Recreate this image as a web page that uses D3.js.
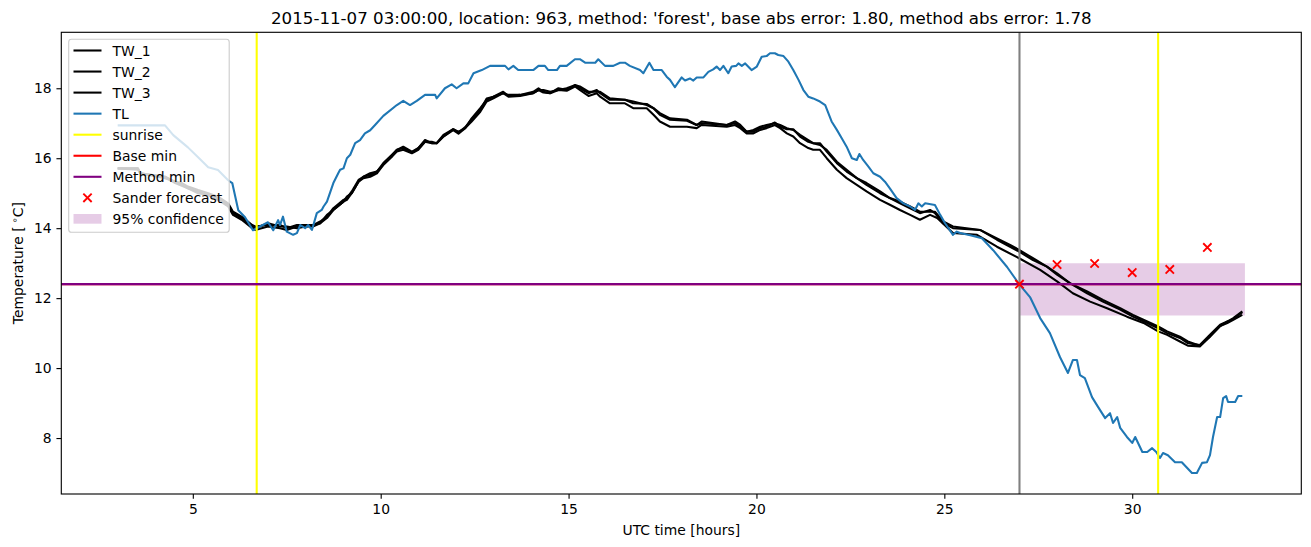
<!DOCTYPE html>
<html><head><meta charset="utf-8">
<script src="https://cdn.jsdelivr.net/npm/d3@7"></script>
<style>body{margin:0;background:#fff}svg{display:block}text{font-family:"DejaVu Sans",sans-serif;fill:#000}</style>
</head><body><svg id="c" width="1311" height="547"></svg>
<script>
const TITLE = "2015-11-07 03:00:00, location: 963, method: 'forest', base abs error: 1.80, method abs error: 1.78";
const xTicks = [5,10,15,20,25,30];
const yTicks = [8,10,12,14,16,18];
const TW_1 = [[3.0,15.71],[3.54,15.71],[3.6,15.57],[4.26,15.47],[4.53,15.33],[4.71,15.29],[4.87,15.19],[5.14,15.09],[5.41,15.0],[5.67,14.9],[5.94,14.71],[6.07,14.47],[6.30,14.33],[6.58,14.09],[6.66,14.05],[7.0,14.09],[7.32,14.09],[7.50,14.0],[7.77,14.09],[8.21,14.09],[8.39,14.19],[8.57,14.33],[8.74,14.57],[9.01,14.81],[9.10,14.86],[9.23,15.05],[9.41,15.38],[9.54,15.47],[9.72,15.52],[9.90,15.62],[10.07,15.86],[10.30,16.1],[10.43,16.24],[10.60,16.29],[10.83,16.16],[11.0,16.29],[11.18,16.52],[11.36,16.43],[11.49,16.43],[11.67,16.67],[11.93,16.83],[12.07,16.73],[12.25,16.89],[12.42,17.11],[12.65,17.38],[12.82,17.71],[13.00,17.76],[13.26,17.9],[13.40,17.78],[13.71,17.81],[14.06,17.9],[14.20,18.0],[14.33,17.9],[14.51,17.86],[14.73,18.0],[14.95,17.95],[15.17,18.09],[15.30,18.0],[15.53,17.86],[15.75,17.95],[15.84,17.86],[16.10,17.67],[16.50,17.67],[16.72,17.57],[17.08,17.55],[17.26,17.43],[17.43,17.24],[17.70,17.1],[18.15,17.07],[18.41,16.95],[18.54,17.05],[19.21,16.95],[19.43,17.05],[19.57,16.95],[19.74,16.76],[19.92,16.76],[20.10,16.86],[20.27,16.9],[20.49,17.02],[20.63,16.9],[20.81,16.83],[20.98,16.83],[21.16,16.62],[21.38,16.47],[21.51,16.43],[21.69,16.43],[21.87,16.19],[22.14,15.86],[22.40,15.62],[22.67,15.43],[22.93,15.24],[23.29,15.0],[23.55,14.86],[23.82,14.71],[24.09,14.57],[24.35,14.43],[24.62,14.52],[24.75,14.43],[24.97,14.14],[25.23,14.0],[25.95,13.95],[26.40,13.67],[26.75,13.47],[26.99,13.33],[27.36,13.09],[27.73,12.9],[28.0,12.71],[28.34,12.43],[28.80,12.14],[29.22,11.9],[29.68,11.67],[30.02,11.47],[30.40,11.29],[30.69,11.14],[30.93,11.0],[31.27,10.86],[31.48,10.71],[31.80,10.66],[32.07,10.95],[32.34,11.24],[32.53,11.33],[32.69,11.43],[32.93,11.62]];
const TW_2 = [[3.0,15.71],[3.54,15.67],[3.6,15.57],[4.26,15.43],[4.53,15.33],[4.71,15.24],[4.87,15.14],[5.14,15.05],[5.41,14.95],[5.67,14.86],[5.94,14.67],[6.07,14.43],[6.30,14.29],[6.58,14.05],[6.66,14.0],[7.0,14.14],[7.32,14.05],[7.50,14.05],[7.77,14.0],[8.21,14.09],[8.39,14.14],[8.57,14.38],[8.74,14.52],[9.01,14.76],[9.10,14.9],[9.23,15.0],[9.41,15.33],[9.54,15.47],[9.72,15.57],[9.90,15.62],[10.07,15.81],[10.30,16.05],[10.43,16.24],[10.60,16.33],[10.83,16.19],[11.0,16.29],[11.18,16.47],[11.36,16.47],[11.49,16.43],[11.67,16.62],[11.93,16.83],[12.07,16.76],[12.25,16.86],[12.42,17.14],[12.65,17.43],[12.82,17.67],[13.00,17.76],[13.26,17.86],[13.40,17.81],[13.71,17.81],[14.06,17.86],[14.20,17.95],[14.33,17.95],[14.51,17.9],[14.73,17.95],[14.95,18.0],[15.17,18.09],[15.30,18.05],[15.53,17.9],[15.75,17.9],[15.84,17.9],[16.10,17.71],[16.50,17.67],[16.72,17.62],[17.08,17.52],[17.26,17.43],[17.43,17.29],[17.70,17.14],[18.15,17.1],[18.41,16.95],[18.54,17.0],[19.21,16.95],[19.43,17.0],[19.57,16.9],[19.74,16.76],[19.92,16.81],[20.10,16.9],[20.27,16.95],[20.49,17.0],[20.63,16.95],[20.81,16.86],[20.98,16.81],[21.16,16.67],[21.38,16.52],[21.51,16.43],[21.69,16.38],[21.87,16.24],[22.14,15.9],[22.40,15.67],[22.67,15.43],[22.93,15.29],[23.29,15.05],[23.55,14.86],[23.82,14.76],[24.09,14.62],[24.35,14.47],[24.62,14.47],[24.75,14.47],[24.97,14.19],[25.23,14.05],[25.95,13.95],[26.40,13.71],[26.75,13.52],[26.99,13.38],[27.36,13.14],[27.73,12.9],[28.0,12.67],[28.34,12.43],[28.80,12.19],[29.22,11.95],[29.68,11.71],[30.02,11.52],[30.40,11.33],[30.69,11.19],[30.93,11.05],[31.27,10.9],[31.48,10.76],[31.80,10.64],[32.07,10.9],[32.34,11.2],[32.53,11.33],[32.69,11.4],[32.93,11.6]];
const TW_3 = [[3.0,15.71],[3.54,15.71],[3.6,15.57],[4.26,15.47],[4.53,15.29],[4.87,15.14],[5.14,15.0],[5.41,14.95],[5.67,14.81],[5.94,14.62],[6.07,14.38],[6.30,14.24],[6.58,14.0],[6.66,13.95],[7.0,14.05],[7.32,14.0],[7.50,13.95],[7.77,14.05],[8.21,14.05],[8.39,14.14],[8.57,14.29],[8.74,14.52],[9.01,14.76],[9.10,14.81],[9.23,15.0],[9.41,15.33],[9.54,15.43],[9.72,15.47],[9.90,15.57],[10.07,15.81],[10.30,16.05],[10.43,16.19],[10.60,16.24],[10.83,16.14],[11.0,16.24],[11.18,16.47],[11.36,16.43],[11.49,16.43],[11.67,16.62],[11.93,16.8],[12.07,16.7],[12.25,16.86],[12.42,17.05],[12.65,17.33],[12.82,17.62],[13.00,17.71],[13.26,17.86],[13.40,17.76],[13.71,17.78],[14.06,17.86],[14.20,17.95],[14.33,17.88],[14.51,17.86],[14.73,17.95],[14.95,17.93],[15.17,18.05],[15.30,17.95],[15.53,17.78],[15.75,17.86],[15.84,17.76],[16.10,17.57],[16.50,17.57],[16.72,17.43],[17.08,17.43],[17.26,17.24],[17.43,17.05],[17.70,16.9],[18.15,16.9],[18.41,16.86],[18.54,16.95],[19.21,16.9],[19.43,16.95],[19.57,16.86],[19.74,16.71],[19.92,16.71],[20.10,16.81],[20.27,16.86],[20.49,16.95],[20.63,16.86],[20.81,16.71],[20.98,16.62],[21.16,16.43],[21.38,16.29],[21.51,16.24],[21.69,16.24],[21.87,16.0],[22.14,15.67],[22.40,15.43],[22.67,15.24],[22.93,15.05],[23.29,14.81],[23.55,14.67],[23.82,14.52],[24.09,14.38],[24.35,14.24],[24.62,14.38],[24.81,14.29],[25.23,13.86],[25.87,13.81],[26.40,13.47],[26.99,13.14],[27.55,12.81],[28.0,12.48],[28.42,12.14],[28.88,11.9],[29.33,11.71],[29.86,11.47],[30.30,11.29],[30.69,11.05],[30.93,10.95],[31.27,10.76],[31.48,10.64],[31.80,10.62],[32.07,10.9],[32.34,11.2],[32.53,11.29],[32.69,11.38],[32.93,11.52]];
const TL = [[3.0,16.94],[4.26,16.94],[4.48,16.66],[4.87,16.31],[5.14,16.03],[5.41,15.74],[5.67,15.66],[5.94,15.37],[6.05,15.29],[6.21,14.51],[6.39,14.31],[6.60,13.94],[7.00,14.17],[7.14,13.94],[7.27,14.23],[7.32,14.09],[7.40,14.33],[7.50,13.9],[7.67,13.81],[7.77,13.86],[7.86,14.09],[7.99,14.0],[8.07,14.09],[8.17,13.95],[8.30,14.43],[8.43,14.52],[8.48,14.62],[8.57,14.76],[8.74,15.29],[8.87,15.57],[8.92,15.67],[9.01,15.71],[9.10,16.0],[9.19,16.1],[9.32,16.43],[9.45,16.52],[9.58,16.71],[9.72,16.8],[9.85,16.95],[10.07,17.21],[10.43,17.52],[10.60,17.64],[10.78,17.52],[10.96,17.64],[11.18,17.81],[11.45,17.81],[11.49,17.71],[11.71,18.0],[11.89,18.11],[12.02,18.0],[12.20,18.14],[12.33,18.14],[12.47,18.43],[12.69,18.52],[12.91,18.64],[13.31,18.64],[13.40,18.54],[13.53,18.64],[13.66,18.52],[14.06,18.52],[14.20,18.64],[14.37,18.64],[14.46,18.52],[14.69,18.52],[14.77,18.64],[14.95,18.64],[15.17,18.83],[15.30,18.83],[15.44,18.73],[15.71,18.73],[15.79,18.83],[15.97,18.64],[16.19,18.64],[16.37,18.73],[16.50,18.73],[16.63,18.64],[16.90,18.52],[16.99,18.43],[17.15,18.73],[17.26,18.52],[17.48,18.52],[17.61,18.33],[17.70,18.24],[17.83,18.03],[18.01,18.31],[18.10,18.22],[18.23,18.28],[18.32,18.22],[18.41,18.31],[18.59,18.31],[18.72,18.47],[18.85,18.54],[18.94,18.62],[19.03,18.52],[19.12,18.64],[19.25,18.43],[19.34,18.62],[19.46,18.64],[19.52,18.71],[19.61,18.64],[19.70,18.71],[19.87,18.52],[20.01,18.62],[20.14,18.9],[20.27,18.92],[20.36,19.0],[20.49,19.0],[20.58,18.95],[20.72,18.92],[20.85,18.76],[20.98,18.52],[21.12,18.24],[21.25,17.95],[21.38,17.76],[21.51,17.71],[21.69,17.62],[21.83,17.52],[22.00,17.05],[22.14,16.81],[22.27,16.57],[22.40,16.33],[22.54,16.0],[22.67,15.95],[22.74,16.12],[22.84,15.95],[22.98,15.76],[23.11,15.57],[23.29,15.47],[23.42,15.33],[23.55,15.14],[23.73,14.86],[23.91,14.71],[24.09,14.62],[24.22,14.52],[24.31,14.71],[24.40,14.62],[24.49,14.71],[24.75,14.66],[24.89,14.38],[25.02,14.14],[25.23,13.81],[25.33,13.9],[25.42,13.86],[25.69,13.8],[26.00,13.71],[26.30,13.37],[26.67,12.89],[26.99,12.4],[27.28,12.03],[27.55,11.43],[27.81,11.0],[28.08,10.31],[28.29,9.86],[28.42,10.23],[28.53,10.23],[28.61,9.8],[28.74,9.71],[28.93,9.17],[29.09,8.89],[29.28,8.57],[29.41,8.71],[29.49,8.43],[29.60,8.6],[29.68,8.29],[29.86,8.03],[30.00,7.86],[30.08,8.03],[30.27,7.6],[30.40,7.6],[30.53,7.71],[30.64,7.6],[30.74,7.43],[30.82,7.57],[30.95,7.51],[31.14,7.31],[31.32,7.31],[31.59,7.0],[31.72,7.0],[31.86,7.29],[31.99,7.31],[32.07,7.51],[32.15,8.03],[32.26,8.6],[32.34,8.6],[32.42,9.14],[32.50,9.2],[32.55,9.03],[32.74,9.03],[32.82,9.2],[32.93,9.2]];
const sunriseHours = [6.7, 30.69];
const forecastTimeHour = [27.0];
const baseMin = [12.4];
const methodMin = [12.4];
const sanderHours = [27, 28, 29, 30, 31, 32];
const sanderValues = [12.4, 12.96, 12.99, 12.73, 12.82, 13.45];
const confHours = [27, 33];
const confLow = [11.5, 11.5];
const confHigh = [13.0, 13.0];

const PT = 100/72;
const LW = 1.5*PT;
const svg = d3.select("#c");
const L = 61.3, R = 1301.3, T = 32.3, B = 494;
const allX = [...TW_1, ...TW_2, ...TW_3, ...TL].map(d => d[0]).concat(sanderHours, confHours);
const allY = [...TW_1, ...TW_2, ...TW_3, ...TL].map(d => d[1]).concat(sanderValues, confLow, confHigh);
function pad(ext){ const s = ext[1]-ext[0]; return [ext[0]-0.05*s, ext[1]+0.05*s]; }
const x = d3.scaleLinear().domain(pad(d3.extent(allX))).range([L, R]);
const y = d3.scaleLinear().domain(pad(d3.extent(allY))).range([B, T]);

svg.append("rect").attr("width",1311).attr("height",547).attr("fill","#fff");
const plot = svg.append("g");
plot.append("clipPath").attr("id","clip").append("rect").attr("x",L).attr("y",T).attr("width",R-L).attr("height",B-T);
const g = plot.append("g").attr("clip-path","url(#clip)");

const area = d3.area().x((d,i)=>x(confHours[i])).y0((d,i)=>y(confLow[i])).y1((d,i)=>y(confHigh[i]));
g.append("path").datum(confHours).attr("d", area).attr("fill","purple").attr("fill-opacity",0.2);

const line = d3.line().x(d=>x(d[0])).y(d=>y(d[1]));
[TW_1, TW_2, TW_3].forEach(s => g.append("path").datum(s).attr("d", line).attr("fill","none").attr("stroke","#000").attr("stroke-width",LW).attr("stroke-linejoin","round"));
g.append("path").datum(TL).attr("d", line).attr("fill","none").attr("stroke","#1f77b4").attr("stroke-width",LW).attr("stroke-linejoin","round");

sunriseHours.forEach(h => g.append("line").attr("x1",x(h)).attr("x2",x(h)).attr("y1",T).attr("y2",B).attr("stroke","#ffff00").attr("stroke-width",LW));
forecastTimeHour.forEach(h => g.append("line").attr("x1",x(h)).attr("x2",x(h)).attr("y1",T).attr("y2",B).attr("stroke","#808080").attr("stroke-width",LW));
baseMin.forEach(v => g.append("line").attr("x1",L).attr("x2",R).attr("y1",y(v)).attr("y2",y(v)).attr("stroke","#ff0000").attr("stroke-width",LW));
methodMin.forEach(v => g.append("line").attr("x1",L).attr("x2",R).attr("y1",y(v)).attr("y2",y(v)).attr("stroke","#800080").attr("stroke-width",LW));

const ms = 3*PT;
function cross(sel, cx, cy){ sel.append("path").attr("d",`M${cx-ms},${cy-ms}L${cx+ms},${cy+ms}M${cx-ms},${cy+ms}L${cx+ms},${cy-ms}`).attr("stroke","#ff0000").attr("stroke-width",1.5*PT*0.9); }
sanderHours.forEach((h,i) => cross(g, x(h), y(sanderValues[i])));

const TK = 3.5*PT;
const xAxis = d3.axisBottom(x).tickValues(xTicks).tickSize(TK).tickPadding(TK).tickFormat(d3.format("d"));
const yAxis = d3.axisLeft(y).tickValues(yTicks).tickSize(TK).tickPadding(TK).tickFormat(d3.format("d"));
const gx = svg.append("g").attr("transform",`translate(0,${B})`).call(xAxis);
const gy = svg.append("g").attr("transform",`translate(${L},0)`).call(yAxis);
[gx, gy].forEach(a => { a.select(".domain").remove(); a.selectAll(".tick line").attr("stroke","#000").attr("stroke-width",0.8*PT); a.selectAll("text").attr("font-family","DejaVu Sans").attr("font-size","13.9px").attr("fill","#000"); });
svg.append("rect").attr("x",L).attr("y",T).attr("width",R-L).attr("height",B-T).attr("fill","none").attr("stroke","#000").attr("stroke-width",0.8*PT);

svg.append("text").attr("x",(L+R)/2).attr("y",24).attr("text-anchor","middle").attr("font-size","16.67px").text(TITLE);
svg.append("text").attr("x",(L+R)/2).attr("y",535).attr("text-anchor","middle").attr("font-size","13.9px").text("UTC time [hours]");
const yl = svg.append("text").attr("transform",`translate(23,${(T+B)/2}) rotate(-90)`).attr("text-anchor","middle").attr("font-size","13.9px");
yl.append("tspan").text("Temperature [");
yl.append("tspan").attr("dx","3").attr("dy","-5").attr("font-size","9.7px").text("∘");
yl.append("tspan").attr("dy","5").text("C]");

const lg = svg.append("g");
lg.append("rect").attr("x",68.7).attr("y",39.3).attr("width",160.5).attr("height",193).attr("rx",2.8).attr("fill","#fff").attr("fill-opacity",0.8).attr("stroke","#cccccc").attr("stroke-width",0.8*PT);
const entries = [
  {label:"TW_1", type:"line", color:"#000"},
  {label:"TW_2", type:"line", color:"#000"},
  {label:"TW_3", type:"line", color:"#000"},
  {label:"TL", type:"line", color:"#1f77b4"},
  {label:"sunrise", type:"line", color:"#ffff00"},
  {label:"Base min", type:"line", color:"#ff0000"},
  {label:"Method min", type:"line", color:"#800080"},
  {label:"Sander forecast", type:"x", color:"#ff0000"},
  {label:"95% confidence", type:"patch", color:"purple"}
];
entries.forEach((e,i) => {
  const cy = 50.5 + i*21.05;
  if (e.type === "line") lg.append("line").attr("x1",73.5).attr("x2",101.5).attr("y1",cy).attr("y2",cy).attr("stroke",e.color).attr("stroke-width",LW);
  else if (e.type === "x") cross(lg, 87.5, cy);
  else lg.append("rect").attr("x",73.5).attr("y",cy-4.9).attr("width",28).attr("height",9.7).attr("fill",e.color).attr("fill-opacity",0.2);
  lg.append("text").attr("x",112.5).attr("y",cy).attr("dy","0.36em").attr("font-size","13.9px").text(e.label);
});
</script></body></html>
